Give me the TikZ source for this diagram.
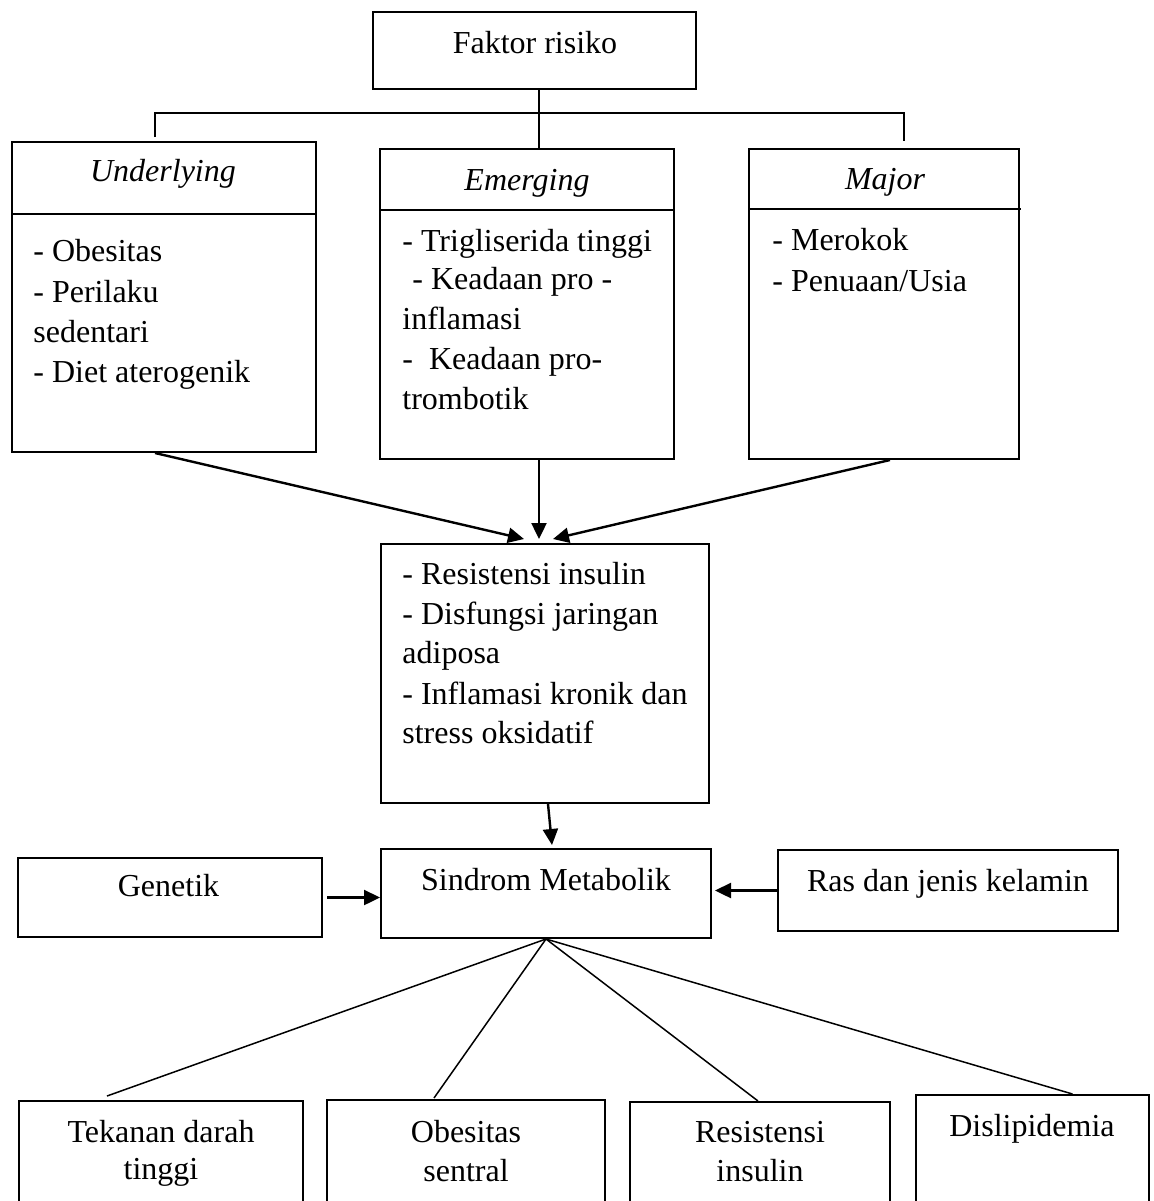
\documentclass[tikz,border=0pt]{standalone}
\usepackage{fontspec}
\setmainfont{Liberation Serif}
\usetikzlibrary{arrows.meta,fit,calc}
\begin{document}
\begin{tikzpicture}[x=0.5pt,y=-0.5pt,
  box/.style={draw, line width=1pt, inner sep=0pt},
  txt/.style={font=\fontsize{16}{20}\selectfont, inner sep=0pt, anchor=base},
  item/.style={txt, anchor=base west},
  arr/.style={line width=1.2pt, -{Triangle[length=8pt,width=7.5pt]}},
  tree/.style={line width=0.9pt},
  link/.style={line width=0.75pt}]
\useasboundingbox (0,0) rectangle (1154,1201);

% boxes
\node[box, fit={(373,12) (696,89)}] (faktor) {};
\node[box, fit={(12,142) (316,452)}] (under) {};
\node[box, fit={(380,149) (674,459)}] (emerg) {};
\node[box, fit={(749,149) (1019,459)}] (major) {};
\node[box, fit={(381,544) (709,803)}] (mech) {};
\node[box, fit={(381,849) (711,938)}] (sind) {};
\node[box, fit={(18,858) (322,937)}] (gen) {};
\node[box, fit={(778,850) (1118,931)}] (ras) {};
\node[box, fit={(19,1101) (303,1220)}] (tek) {};
\node[box, fit={(327,1100) (605,1220)}] (obes) {};
\node[box, fit={(630,1102) (890,1220)}] (resis) {};
\node[box, fit={(916,1095) (1149,1220)}] (disl) {};

% dividers
\draw[line width=1pt] (12,214) -- (316,214);
\draw[line width=1pt] (379,210) -- (674,210);
\draw[line width=1pt] (749,209) -- (1021,209);

% tree from Faktor risiko
\coordinate (hub) at (539,113);
\coordinate (ul) at (155,137);
\coordinate (mr) at (904,141);
\draw[tree] (faktor.south -| hub) -- (emerg.north -| hub);
\draw[tree] (ul) -- (ul |- hub) -- (mr |- hub) -- (mr);

% arrows into mechanism box
\draw[arr] ($(under.south)+(-9,0)$) -- ($(mech.north)+(-21,-4)$);
\draw[arr] ($(emerg.south)+(12,0)$) -- ($(mech.north)+(-6,-4)$);
\draw[arr] ($(major.south)+(6,0)$) -- ($(mech.north)+(8,-4)$);

% arrows into Sindrom Metabolik
\draw[arr] ($(mech.south)+(3,0)$) -- ($(sind.north)+(6,-3)$);
\draw[arr] ($(gen.east)+(4,0)$) -- (sind.west |- gen.east);
\draw[arr] (ras.west) -- ($(sind.east |- ras.west)+(3,0)$);

% lines to the components
\draw[link] (sind.south) -- ($(tek.north)+(-54,-4)$);
\draw[link] (sind.south) -- ($(obes.north)+(-32,-1)$);
\draw[link] (sind.south) -- ($(resis.north)+(-2,0)$);
\draw[link] (sind.south) -- ($(disl.north)+(40,0)$);

% texts
\node[txt] (tfak) at (535,53) {Faktor risiko};
\node[txt] (tund) at (163,181) {\itshape Underlying};
\node[txt] (temr) at (527,190) {\itshape Emerging};
\node[txt] (tmaj) at (885,189) {\itshape Major};

\node[item] (u1) at (33,261) {- Obesitas};
\node[item] (u2) at (33,302) {- Perilaku};
\node[item] (u3) at (33,342) {sedentari};
\node[item] (u4) at (33,382) {- Diet aterogenik};

\node[item] (e1) at (402,251) {- Trigliserida tinggi};
\node[item] (e2) at (412,289) {- Keadaan pro -};
\node[item] (e3) at (402,329) {inflamasi};
\node[item] (e4) at (402,369) {-\ \ Keadaan pro-};
\node[item] (e5) at (402,409) {trombotik};

\node[item] (m1) at (772,250) {- Merokok};
\node[item] (m2) at (772,291) {- Penuaan/Usia};

\node[item] (k1) at (402,584) {- Resistensi insulin};
\node[item] (k2) at (402,624) {- Disfungsi jaringan};
\node[item] (k3) at (402,663) {adiposa};
\node[item] (k4) at (402,704) {- Inflamasi kronik dan};
\node[item] (k5) at (402,743) {stress oksidatif};

\node[txt] (tsind) at (546,890) {Sindrom Metabolik};
\node[txt] (tgen) at (168.5,896) {Genetik};
\node[txt] (tras) at (948,891) {Ras dan jenis kelamin};

\node[txt] (ttek1) at (161,1142) {Tekanan darah};
\node[txt] (ttek2) at (161,1179) {tinggi};
\node[txt] (tobe1) at (466,1142) {Obesitas};
\node[txt] (tobe2) at (466,1181) {sentral};
\node[txt] (tres1) at (760,1142) {Resistensi};
\node[txt] (tres2) at (760,1181) {insulin};
\node[txt] (tdis) at (1032,1136) {Dislipidemia};
\end{tikzpicture}
\end{document}
